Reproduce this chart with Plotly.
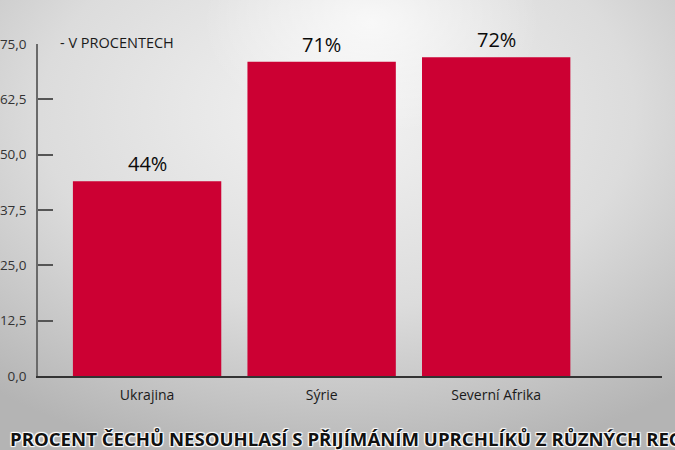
import base64
import plotly.graph_objects as go

# data
regions = ["Ukrajina", "Sýrie", "Severní Afrika"]
disagree_pct = [44, 71, 72]
y_ticks = [0, 12.5, 25, 37.5, 50, 62.5, 75]

W, H = 675, 450
ML, MR, MT, MB = 38, 13, 44, 74
pw, ph = W - ML - MR, H - MT - MB

# blurred grey backdrop, done as a small svg gradient
bg_svg = (
    '<svg xmlns="http://www.w3.org/2000/svg" width="675" height="450">'
    '<defs>'
    '<radialGradient id="g" cx="0.5" cy="0.25" r="0.8">'
    '<stop offset="0" stop-color="#f3f3f3"/>'
    '<stop offset="0.55" stop-color="#dcdcdc"/>'
    '<stop offset="1" stop-color="#b4b4b4"/>'
    '</radialGradient>'
    '<radialGradient id="h" cx="0.55" cy="0.05" r="0.25">'
    '<stop offset="0" stop-color="#ffffff" stop-opacity="0.7"/>'
    '<stop offset="1" stop-color="#ffffff" stop-opacity="0"/>'
    '</radialGradient>'
    '</defs>'
    '<rect width="675" height="450" fill="url(#g)"/>'
    '<rect width="675" height="450" fill="url(#h)"/>'
    '</svg>'
)
bg_src = "data:image/svg+xml;base64," + base64.b64encode(bg_svg.encode()).decode()

fig = go.Figure()
fig.add_trace(go.Bar(
    x=regions,
    y=disagree_pct,
    width=0.85,
    marker=dict(color="#cc0033", line=dict(width=0)),
    hoverinfo="skip",
))

# value labels above bars
for r, v in zip(regions, disagree_pct):
    fig.add_annotation(
        x=r, y=v, text=f"{v}%", showarrow=False,
        yanchor="bottom", yshift=2,
        font=dict(family="Open Sans", size=20, color="#0a0a0a"),
    )

fig.add_annotation(
    xref="paper", yref="paper", x=0, y=1, xshift=20, yshift=2,
    xanchor="left", yanchor="middle", showarrow=False,
    text="- V PROCENTECH",
    font=dict(family="Open Sans", size=14.5, color="#1a1a1a"),
)

# headline at the bottom, cut by the frame like in the source image
fig.add_annotation(
    xref="paper", yref="paper", x=0, y=0, xshift=-30, yshift=-62,
    xanchor="left", yanchor="middle", showarrow=False,
    text="PROCENT ČECHŮ NESOUHLASÍ S PŘIJÍMÁNÍM UPRCHLÍKŮ Z RŮZNÝCH REGIONŮ",
    font=dict(
        family="Open Sans", size=18.6,
        color="#111111", weight=700,
        shadow="1px 1px 1px #fff, -1px -1px 1px #fff, 1px -1px 1px #fff, -1px 1px 1px #fff",
    ),
)

fig.update_layout(
    width=W, height=H,
    margin=dict(l=ML, r=MR, t=MT, b=MB, autoexpand=False),
    paper_bgcolor="#d8d8d8",
    plot_bgcolor="rgba(0,0,0,0)",
    separators=", ",
    showlegend=False,
    images=[dict(
        source=bg_src, xref="paper", yref="paper",
        x=-ML / pw, y=1 + MT / ph, sizex=W / pw, sizey=H / ph,
        xanchor="left", yanchor="top", sizing="stretch", layer="below",
    )],
    font=dict(family="Open Sans", color="#222222"),
)

fig.update_xaxes(
    range=[-0.625, 2.95],
    showline=True, linecolor="#333333", linewidth=1.5,
    ticks="", showgrid=False, zeroline=False,
    tickfont=dict(size=14, color="#1a1a1a"),
    ticklabelstandoff=5,
)
fig.update_yaxes(
    range=[0, 75], tickvals=y_ticks, tickformat=".1f",
    showline=True, linecolor="#6a6a6a", linewidth=1.5,
    ticks="inside", ticklen=15, tickcolor="#555555", tickwidth=1.5,
    showgrid=False, zeroline=False,
    tickfont=dict(size=13.5, color="#333333"),
    ticklabelstandoff=7,
)

# drop the browser's default body margin so the chart sits at 0,0
fig.write_html(
    "out.html",
    config={"displayModeBar": False},
    post_script="document.body.style.margin='0';",
)
